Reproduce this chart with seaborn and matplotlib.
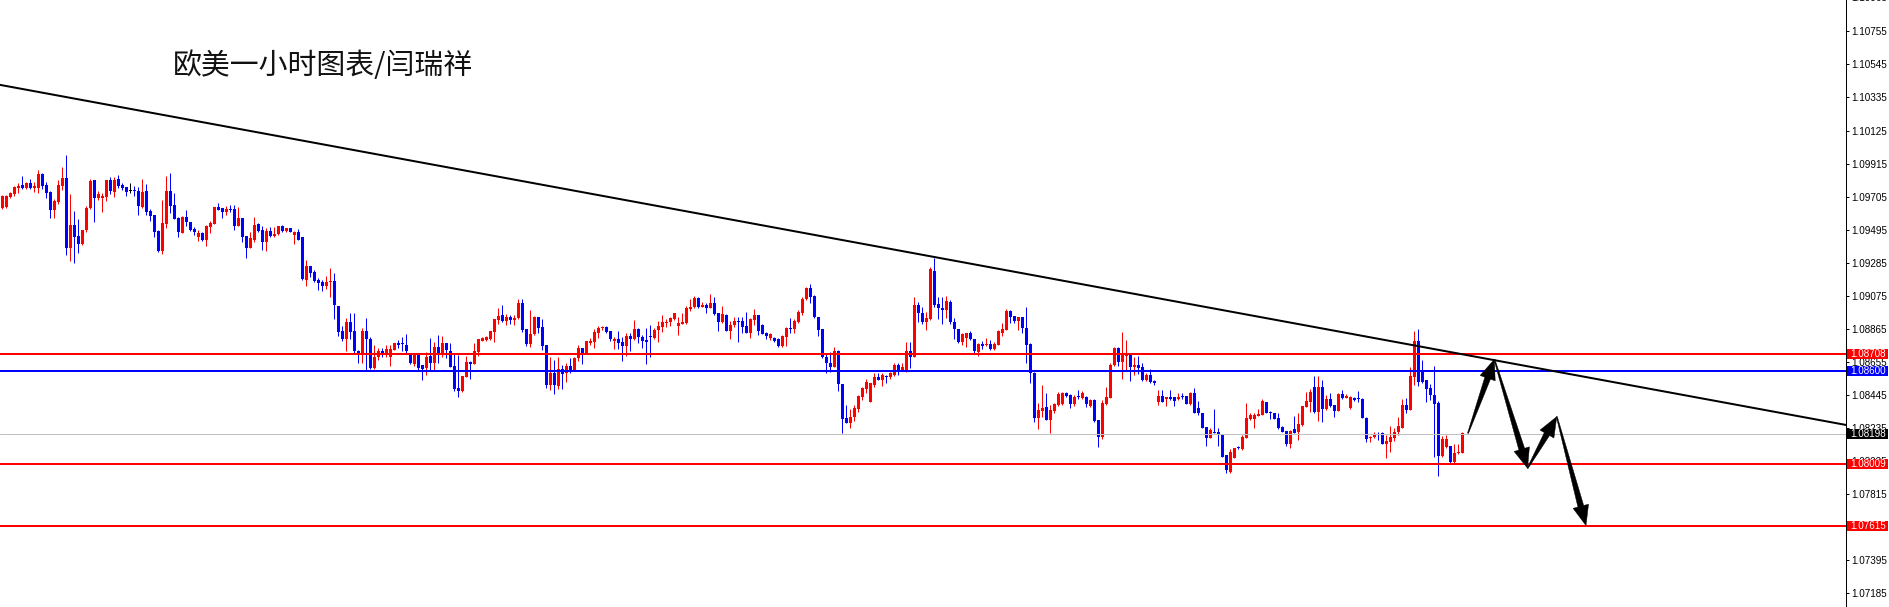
import numpy as np
import matplotlib
matplotlib.use("Agg")
import matplotlib.pyplot as plt
import seaborn as sns
from matplotlib.patches import Polygon, Rectangle
from matplotlib.transforms import blended_transform_factory

# ---------------- data (prices in 1e-5 units, EUR/USD 1h) ----------------
opens = [
 109633,109640,109703,109722,109760,109779,109760,109792,109760,109760,
 109849,109779,109735,109621,109671,109773,109824,109379,109525,109455,
 109405,109494,109633,109811,109697,109697,109703,109811,109735,109817,
 109779,109767,109741,109741,109741,109640,109741,109614,109589,109487,
 109360,109532,109741,109652,109570,109475,109576,109544,109500,109449,
 109475,109430,109513,109532,109640,109633,109608,109627,109627,109519,
 109570,109455,109379,109430,109532,109494,109418,109487,109455,109468,
 109519,109487,109506,109462,109481,109449,109176,109265,109227,109176,
 109164,109138,109164,109170,109011,108852,108801,108909,108852,108725,
 108713,108852,108801,108617,108687,108725,108700,108687,108732,108776,
 108770,108763,108706,108643,108706,108636,108617,108694,108649,108751,
 108713,108776,108725,108630,108490,108471,108560,108655,108643,108719,
 108789,108795,108801,108846,108922,108954,108916,108941,108922,108935,
 109030,108865,108770,108833,108941,108878,108763,108509,108585,108503,
 108611,108585,108630,108598,108681,108744,108706,108776,108782,108840,
 108871,108878,108852,108789,108801,108782,108757,108820,108801,108865,
 108814,108795,108814,108808,108859,108878,108903,108909,108928,108884,
 108897,108903,108992,109005,109062,109005,109017,108998,109030,108966,
 108909,108954,108852,108890,108916,108916,108884,108840,108922,108954,
 108890,108840,108808,108808,108801,108757,108814,108871,108865,108909,
 108966,109055,109125,109074,108941,108865,108687,108649,108624,108725,
 108516,108300,108268,108306,108357,108433,108484,108401,108509,108560,
 108541,108567,108560,108573,108636,108605,108605,108725,108687,109017,
 108966,108909,108928,109233,109024,108998,108986,109036,108909,108865,
 108782,108808,108840,108801,108719,108770,108763,108770,108738,108763,
 108840,108859,108979,108947,108916,108941,108871,108770,108585,108300,
 108344,108370,108287,108344,108382,108389,108459,108446,108389,108435,
 108427,108433,108376,108414,108287,108179,108389,108427,108636,108744,
 108655,108694,108706,108624,108636,108624,108541,108573,108535,108401,
 108439,108420,108433,108433,108420,108433,108439,108389,108459,108363,
 108331,108243,108173,108211,108211,108192,108065,107957,108046,108109,
 108103,108173,108293,108293,108312,108319,108401,108338,108331,108300,
 108243,108217,108135,108230,108211,108255,108370,108401,108497,108338,
 108497,108357,108420,108382,108344,108452,108427,108363,108427,108420,
 108420,108300,108173,108179,108198,108205,108135,108147,108173,108211,
 108236,108382,108350,108560,108789,108598,108541,108490,108446,108395,
 108058,108116,108122,108020,108078,108078]

highs = [
 109716,109716,109735,109773,109792,109836,109798,109817,109798,109874,
 109855,109798,109741,109690,109811,109894,109970,109722,109614,109563,
 109494,109646,109817,109811,109741,109728,109811,109830,109830,109843,
 109792,109767,109792,109773,109767,109817,109786,109627,109589,109494,
 109684,109836,109855,109728,109576,109582,109621,109544,109513,109494,
 109481,109525,109551,109640,109665,109633,109646,109652,109652,109640,
 109570,109455,109481,109576,109538,109519,109506,109513,109513,109519,
 109525,109506,109506,109487,109500,109449,109303,109265,109240,109189,
 109176,109202,109252,109221,109011,108884,108935,108966,108966,108732,
 108871,108935,108814,108763,108744,108744,108763,108763,108776,108795,
 108814,108833,108706,108706,108706,108636,108719,108808,108782,108827,
 108820,108776,108776,108713,108700,108567,108694,108662,108776,108801,
 108814,108820,108852,108928,108998,109017,108960,108954,108954,109055,
 109055,108865,108986,108947,108941,108928,108763,108687,108668,108687,
 108636,108649,108681,108687,108763,108744,108789,108808,108865,108884,
 108884,108884,108852,108814,108852,108814,108840,108840,108922,108871,
 108827,108871,108890,108871,108916,108954,108928,108941,108966,108941,
 108966,109011,109055,109074,109068,109036,109030,109087,109068,108966,
 109011,108960,108916,108941,108941,108941,108973,108935,108992,108954,
 108897,108846,108840,108814,108808,108827,108878,108935,108928,108986,
 109068,109132,109151,109081,108941,108865,108706,108719,108751,108732,
 108516,108382,108357,108382,108446,108497,108547,108522,108585,108585,
 108585,108573,108592,108649,108649,108649,108782,108782,109068,109036,
 109005,108973,109259,109316,109068,109068,109074,109049,108935,108865,
 108840,108840,108852,108801,108776,108789,108808,108795,108782,108859,
 108903,108992,108986,108947,108941,108941,109005,108776,108592,108395,
 108509,108459,108382,108395,108465,108465,108465,108452,108446,108478,
 108471,108440,108420,108420,108287,108414,108497,108649,108751,108751,
 108846,108795,108713,108687,108694,108649,108586,108611,108541,108478,
 108478,108433,108478,108433,108459,108459,108439,108465,108490,108408,
 108331,108243,108236,108357,108236,108192,108065,108103,108109,108122,
 108192,108395,108331,108331,108357,108420,108401,108344,108331,108331,
 108249,108217,108224,108313,108331,108376,108465,108484,108567,108567,
 108541,108446,108459,108382,108459,108478,108452,108440,108433,108471,
 108427,108306,108186,108211,108211,108211,108192,108249,108236,108306,
 108420,108427,108624,108852,108865,108668,108541,108516,108630,108408,
 108186,108192,108122,108135,108135,108211]

lows = [
 109627,109633,109697,109709,109728,109754,109754,109754,109735,109728,
 109754,109697,109570,109570,109659,109747,109335,109297,109284,109348,
 109399,109481,109627,109544,109684,109608,109678,109722,109703,109760,
 109747,109709,109728,109709,109589,109633,109589,109551,109449,109354,
 109341,109506,109601,109563,109449,109475,109519,109487,109462,109424,
 109424,109392,109475,109532,109621,109570,109589,109608,109494,109519,
 109418,109316,109379,109418,109481,109367,109360,109449,109449,109462,
 109481,109481,109481,109405,109430,109176,109138,109195,109164,109113,
 109106,109119,109068,108928,108820,108789,108725,108801,108713,108649,
 108649,108605,108611,108611,108668,108687,108687,108630,108732,108744,
 108725,108713,108643,108630,108605,108541,108573,108605,108605,108649,
 108687,108681,108624,108471,108433,108465,108560,108548,108643,108694,
 108789,108789,108795,108782,108897,108909,108890,108897,108890,108928,
 108846,108757,108751,108827,108840,108732,108490,108478,108452,108484,
 108484,108528,108585,108598,108662,108643,108706,108763,108744,108808,
 108859,108840,108789,108738,108738,108662,108694,108725,108795,108776,
 108744,108643,108687,108801,108782,108846,108878,108884,108922,108827,
 108897,108897,108979,108998,108998,109005,108966,108998,108954,108852,
 108903,108852,108801,108878,108782,108840,108840,108808,108890,108827,
 108833,108801,108795,108782,108751,108751,108757,108840,108840,108903,
 108954,109049,109030,108935,108820,108681,108586,108592,108624,108471,
 108205,108268,108236,108281,108338,108414,108459,108401,108497,108541,
 108503,108522,108547,108567,108573,108598,108592,108617,108687,108909,
 108897,108858,108922,109005,108928,108897,108935,108897,108801,108776,
 108763,108751,108795,108713,108694,108738,108757,108732,108732,108763,
 108820,108859,108903,108903,108859,108840,108649,108522,108274,108230,
 108306,108287,108205,108331,108376,108382,108433,108363,108376,108420,
 108420,108370,108370,108274,108116,108167,108382,108427,108630,108630,
 108548,108605,108535,108573,108579,108535,108535,108522,108509,108382,
 108401,108376,108414,108376,108414,108420,108389,108382,108331,108319,
 108236,108122,108173,108205,108122,108052,107951,107951,108046,108103,
 108097,108173,108287,108236,108312,108319,108331,108293,108293,108230,
 108211,108122,108109,108205,108160,108249,108370,108338,108331,108281,
 108274,108350,108370,108306,108344,108420,108427,108357,108408,108401,
 108300,108147,108147,108173,108160,108135,108046,108084,108154,108192,
 108236,108331,108350,108509,108503,108522,108401,108414,108052,107931,
 108052,108109,108014,108014,108071,108078]

closes = [
 109709,109709,109728,109767,109773,109760,109792,109760,109773,109849,
 109773,109728,109621,109678,109779,109824,109379,109525,109449,109405,
 109494,109633,109805,109697,109722,109709,109811,109741,109811,109773,
 109760,109735,109741,109740,109646,109735,109608,109582,109481,109360,
 109538,109741,109646,109563,109481,109576,109544,109494,109481,109475,
 109430,109519,109538,109640,109621,109608,109627,109621,109519,109570,
 109449,109379,109443,109525,109487,109418,109487,109455,109468,109519,
 109487,109506,109481,109481,109430,109183,109265,109221,109170,109157,
 109138,109164,109170,109017,108846,108801,108909,108846,108725,108713,
 108852,108801,108617,108687,108725,108713,108738,108738,108776,108763,
 108768,108725,108649,108706,108617,108611,108687,108649,108751,108713,
 108776,108732,108624,108484,108471,108567,108655,108643,108725,108801,
 108808,108814,108852,108928,108947,108916,108941,108922,108935,109030,
 108859,108770,108833,108941,108871,108757,108509,108585,108509,108611,
 108579,108630,108598,108681,108744,108706,108789,108789,108846,108871,
 108878,108846,108801,108801,108776,108757,108820,108801,108865,108814,
 108789,108782,108812,108859,108884,108909,108909,108935,108966,108903,
 108909,108998,109005,109062,109005,109017,108998,109030,108960,108909,
 108960,108852,108890,108916,108909,108878,108840,108928,108954,108852,
 108833,108820,108833,108789,108757,108820,108871,108865,108916,108973,
 109055,109125,109068,108941,108859,108687,108649,108624,108725,108516,
 108293,108268,108306,108363,108439,108490,108528,108522,108560,108541,
 108573,108560,108586,108636,108605,108624,108725,108687,109017,108966,
 108909,108935,109246,109017,108998,108986,109043,108909,108865,108782,
 108833,108840,108801,108725,108770,108757,108770,108738,108770,108852,
 108865,108979,108941,108916,108941,108871,108763,108585,108300,108350,
 108363,108287,108350,108389,108452,108459,108439,108389,108433,108433,
 108459,108389,108414,108281,108179,108395,108433,108636,108744,108655,
 108713,108713,108624,108636,108617,108541,108573,108528,108522,108439,
 108401,108433,108420,108408,108433,108432,108389,108459,108331,108331,
 108236,108173,108224,108205,108192,108052,107970,108084,108109,108108,
 108179,108300,108319,108319,108325,108408,108331,108331,108293,108236,
 108211,108135,108217,108205,108262,108376,108408,108465,108338,108497,
 108357,108420,108376,108344,108452,108427,108439,108433,108414,108419,
 108300,108167,108179,108198,108192,108135,108154,108179,108211,108249,
 108382,108350,108567,108789,108528,108528,108484,108446,108389,108058,
 108167,108167,108020,108078,108084,108205]

# horizontal levels drawn on the chart
red_levels = [1.08708, 1.08009, 1.07615]
blue_level = 1.08600
current_price = 1.08198

# descending trendline anchors (candle index, price)
trend_idx = [-1, 462]
trend_price = [1.10417, 1.08250]

# hand-drawn projection arrows (candle index, price)
path_idx = [366.4, 373.0, 381.3, 388.6, 395.9]
path_price = [1.08202, 1.08672, 1.07980, 1.08308, 1.07616]

# right-axis tick labels
tick_values = [1.10755, 1.10545, 1.10335, 1.10125, 1.09915, 1.09705, 1.09495,
               1.09285, 1.09075, 1.08865, 1.08655, 1.08445, 1.08235, 1.08025,
               1.07815, 1.07605, 1.07395, 1.07185]
top_tick = 1.10965

title = "欧美一小时图表/闫瑞祥"

# ---------------- drawing ----------------
assert len(opens) == len(highs) == len(lows) == len(closes), (len(opens), len(highs), len(lows), len(closes))

sns.set_theme(style="white")
plt.rcParams['font.family'] = ['Liberation Sans', 'DejaVu Sans']

o = np.array(opens) / 1e5
h = np.array(highs) / 1e5
l = np.array(lows) / 1e5
c = np.array(closes) / 1e5
idx = np.arange(len(o))

RED = "#FF0000"
BLUE = "#0000FF"
colors = np.where(c > o, RED, np.where(c < o, BLUE, "#000000"))

W, H = 1889, 607
fig = plt.figure(figsize=(W / 100, H / 100), dpi=100)
fig.patch.set_facecolor("white")
ax_right_px = 1846
ax = fig.add_axes([0, 0, ax_right_px / W, 1])
ax.set_facecolor("white")
ax.set_xlim(-0.575, 460.9)
ax.set_ylim(1.07099, 1.10954)

px = 0.72  # 1 pixel in points
FS = 7.1

# candles
ax.vlines(idx, l, h, colors=colors, linewidth=px, zorder=2)
body_h = np.maximum(np.abs(c - o), 0.00005)
ax.bar(idx, body_h, bottom=np.minimum(o, c), width=0.75, color=colors,
       linewidth=0, zorder=3)

# horizontal levels
ax.axhline(current_price, color="#C0C0C0", linewidth=px, zorder=4)
for lv in red_levels:
    ax.axhline(lv, color=RED, linewidth=2 * px, zorder=5)
ax.axhline(blue_level, color=BLUE, linewidth=2 * px, zorder=5)

# trendline via seaborn
sns.lineplot(x=trend_idx, y=trend_price, ax=ax, color="black",
             linewidth=2 * px, zorder=6, legend=False)
ax.set_xlim(-0.575, 460.9)
ax.set_ylim(1.07099, 1.10954)

# arrows (built in pixel space, mapped back to data)
fig.canvas.draw()
inv = ax.transData.inverted()
pts = ax.transData.transform(np.column_stack([path_idx, path_price]))
for a, b in zip(pts[:-1], pts[1:]):
    d = b - a
    L = np.hypot(*d)
    u = d / L
    n = np.array([-u[1], u[0]])
    hl, hw, sw, tw = 20.0, 8.0, 3.0, 0.5
    hb = b - u * hl
    poly = np.array([a + n * tw, hb + n * sw, hb + n * hw, b,
                     hb - n * hw, hb - n * sw, a - n * tw])
    ax.add_patch(Polygon(inv.transform(poly), closed=True, facecolor="black",
                         edgecolor="black", linewidth=0.3, zorder=7))

# axes styling
for s in ["left", "top", "bottom"]:
    ax.spines[s].set_visible(False)
ax.spines["right"].set_color("black")
ax.spines["right"].set_linewidth(px)
ax.set_xticks([])
ax.yaxis.tick_right()
ax.set_yticks(tick_values)
ax.set_yticklabels([f"{v:.5f}" for v in tick_values])
ax.tick_params(axis="y", direction="out", length=3 * px, width=px, pad=1.3,
               labelsize=FS, colors="black", right=True, left=False)
ax.set_ylabel("")
ax.set_xlabel("")

tr = blended_transform_factory(ax.transAxes, ax.transData)
ax.text((1851 - 0) / ax_right_px, top_tick, f"{top_tick:.5f}", transform=tr,
        ha="left", va="center", fontsize=FS, color="black", clip_on=False)

# price tags on the axis
box_x0 = 1847 / ax_right_px
box_w = 41 / ax_right_px
box_h = 10 * 6.35e-5
tags = [(lv, RED) for lv in red_levels] + [(blue_level, BLUE), (current_price, "#000000")]
for lv, col in tags:
    ax.add_patch(Rectangle((box_x0, lv - box_h / 2), box_w, box_h, transform=tr,
                           facecolor=col, edgecolor="none", clip_on=False, zorder=10))
    ax.text(1850 / ax_right_px, lv, f"{lv:.5f}", transform=tr, ha="left",
            va="center", fontsize=FS, color="white", clip_on=False, zorder=11)

# title
fig.text(173 / W, 1 - 66 / H, title, fontsize=20.8, color="#111111",
         ha="left", va="center", family=["Noto Sans CJK SC", "DejaVu Sans"])

fig.savefig("out.png", dpi=100, facecolor="white")
